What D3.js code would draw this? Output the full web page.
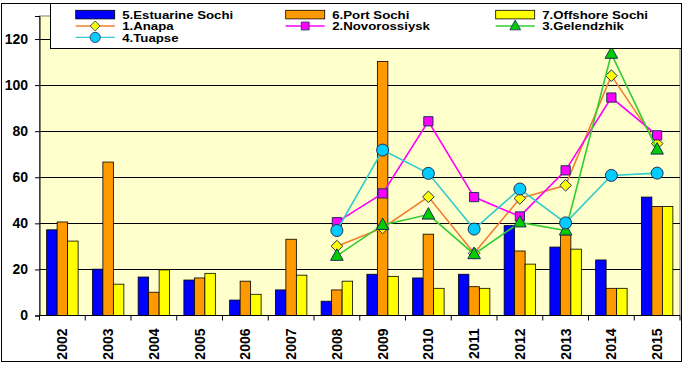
<!DOCTYPE html>
<html><head><meta charset="utf-8">
<script src="https://cdn.jsdelivr.net/npm/d3@7"></script>
<style>
html,body{margin:0;padding:0;background:#fff;}
svg text{font-family:"Liberation Sans",Arial,sans-serif;font-weight:bold;}
</style></head>
<body>
<svg id="chart" width="684" height="365"></svg>
<script>
// ---------- data ----------
const years = ["2002","2003","2004","2005","2006","2007","2008","2009","2010","2011","2012","2013","2014","2015"];
const barNames = ["5.Estuarine Sochi","6.Port Sochi","7.Offshore Sochi"];
const estuarineSochi = [37.2, 20.1, 16.7, 15.4, 6.7, 11.1, 6.2, 17.9, 16.3, 17.9, 39.0, 29.7, 24.1, 51.4];
const portSochi      = [40.6, 66.6, 10.1, 16.3, 14.9, 33.1, 11.1, 110.3, 35.3, 12.5, 28.0, 35.0, 11.8, 47.3];
const offshoreSochi  = [32.3, 13.6, 19.8, 18.3, 9.2, 17.5, 14.9, 17.0, 11.8, 11.8, 22.3, 28.8, 11.8, 47.3];
const lineYears = ["2008","2009","2010","2011","2012","2013","2014","2015"];
const lineNames = ["1.Anapa","2.Novorossiysk","3.Gelendzhik","4.Tuapse"];
const anapa       = [30.1, 38.0, 51.5, 27.0, 50.8, 56.5, 104.1, 74.6];
const novorossiysk= [40.5, 53.0, 84.3, 51.4, 43.0, 63.0, 94.6, 78.2];
const gelendzhik  = [25.9, 39.3, 43.8, 26.6, 40.4, 36.9, 113.6, 72.0];
const tuapse      = [36.9, 71.8, 61.7, 37.5, 54.9, 40.2, 60.8, 61.8];
const yTicks = [0, 20, 40, 60, 80, 100, 120];

// ---------- styles ----------
const barColors = ["#0000FF", "#FF9900", "#FFFF00"];
const lineStyles = [
  {line:"#F08030", fill:"#FFFF00", shape:"diamond"},
  {line:"#FF00FF", fill:"#FF00FF", shape:"square"},
  {line:"#33CC33", fill:"#00CC00", shape:"triangle"},
  {line:"#33CCCC", fill:"#00CCFF", shape:"circle"}
];
const markerStroke = "#1F2F5F";

const svg = d3.select("#chart");
const L = 39.5, R = 680, T = 16, B = 315.5;

const x = d3.scaleBand().domain(years).range([L, R]).paddingInner(0).paddingOuter(0);
const xs = d3.scaleBand().domain(d3.range(3)).range([0, x.bandwidth()]).paddingInner(0).paddingOuter(0.68);
const y = d3.scaleLinear().domain([0, 130]).range([B, T]);

// outer frame
svg.append("rect").attr("x",1.5).attr("y",3.5).attr("width",680).attr("height",358)
  .attr("fill","#fff").attr("stroke","#000").attr("stroke-width",1);

// plot area
svg.append("rect").attr("x",L).attr("y",T).attr("width",R-L).attr("height",B-T)
  .attr("fill","#FFFFCC").attr("stroke","#808080").attr("stroke-width",1);

// gridlines
svg.append("g").selectAll("line").data(yTicks.filter(d=>d>0)).join("line")
  .attr("x1",L).attr("x2",R).attr("y1",d=>Math.round(y(d))+0.5).attr("y2",d=>Math.round(y(d))+0.5)
  .attr("stroke","#000").attr("stroke-width",1);

// bars
const barSeries = [estuarineSochi, portSochi, offshoreSochi];
barSeries.forEach((vals, si) => {
  svg.append("g").selectAll("rect").data(vals).join("rect")
    .attr("x", (d,i) => x(years[i]) + xs(si))
    .attr("width", xs.bandwidth())
    .attr("y", d => y(d))
    .attr("height", d => y(0) - y(d))
    .attr("fill", barColors[si])
    .attr("stroke", "#000").attr("stroke-width", 0.8);
});

// y axis
const yAxis = d3.axisLeft(y).tickValues(yTicks).tickSize(4.5).tickPadding(7);
const gy = svg.append("g").attr("transform",`translate(${L},0)`).call(yAxis);
gy.select(".domain").attr("stroke","#000");
gy.selectAll(".tick line").attr("stroke","#000");
gy.selectAll("text").attr("font-size","14px").attr("fill","#000");

// x axis
const gx = svg.append("g").attr("transform",`translate(0,${B})`);
gx.append("line").attr("x1",L).attr("x2",R).attr("y1",0).attr("y2",0).attr("stroke","#000");
const bounds = years.map(d=>x(d)).concat([x.range()[1]]);
gx.selectAll("line.tk").data(bounds).join("line").attr("class","tk")
  .attr("x1",d=>d).attr("x2",d=>d).attr("y1",0).attr("y2",5).attr("stroke","#000");
gx.selectAll("text").data(years).join("text")
  .attr("transform", d => `translate(${x(d)+x.bandwidth()/2},${13}) rotate(-90)`)
  .attr("text-anchor","end").attr("dy","0.36em")
  .attr("font-size","14px").attr("fill","#000").text(d=>d);

// symbols
function markerPath(shape){
  if(shape==="diamond") return "M0,-5.8L5.8,0L0,5.8L-5.8,0Z";
  if(shape==="square") return "M-4.6,-4.6H4.6V4.6H-4.6Z";
  if(shape==="triangle") return "M0,-7L6.3,4.5H-6.3Z";
  return d3.symbol(d3.symbolCircle, 113)();
}

// lines
const lineSeries = [anapa, novorossiysk, gelendzhik, tuapse];
const xc = d => x(d) + x.bandwidth()/2;
const lineGen = d3.line().x((d,i)=>xc(lineYears[i])).y(d=>y(d));
lineSeries.forEach((vals, si) => {
  const st = lineStyles[si];
  svg.append("path").datum(vals).attr("d", lineGen)
    .attr("fill","none").attr("stroke", st.line).attr("stroke-width", 1.6);
  svg.append("g").selectAll("path").data(vals).join("path")
    .attr("transform",(d,i)=>`translate(${xc(lineYears[i])},${y(d)})`)
    .attr("d", markerPath(st.shape))
    .attr("fill", st.fill).attr("stroke", markerStroke).attr("stroke-width", 1);
});

// legend
const lg = svg.append("g");
lg.append("rect").attr("x",50.5).attr("y",3.5).attr("width",631).attr("height",45)
  .attr("fill","#fff").attr("stroke","#000").attr("stroke-width",1);
const colX = [75.7, 285.7, 495.7];
const rowY = [14.6, 26.0, 37.4];
const items = barNames.map((n,i)=>({name:n, type:"bar", idx:i}))
  .concat(lineNames.map((n,i)=>({name:n, type:"line", idx:i})));
items.forEach((it, k) => {
  const cx = colX[k % 3], cy = rowY[Math.floor(k / 3)];
  const g = lg.append("g").attr("transform",`translate(${cx},${cy})`);
  if(it.type==="bar"){
    g.append("rect").attr("x",0).attr("y",-4.3).attr("width",39).attr("height",8.6)
      .attr("fill",barColors[it.idx]).attr("stroke","#000").attr("stroke-width",0.8);
  } else {
    const st = lineStyles[it.idx];
    g.append("line").attr("x1",0).attr("x2",39).attr("y1",0).attr("y2",0)
      .attr("stroke",st.line).attr("stroke-width",1.4);
    g.append("path").attr("transform","translate(19.5,0) scale(0.85)").attr("d",markerPath(st.shape))
      .attr("fill",st.fill).attr("stroke",markerStroke).attr("stroke-width",1);
  }
  const t = g.append("text").attr("x",46.5).attr("y",0).attr("dy","0.36em")
    .attr("font-size","11.5px").attr("fill","#000").text(it.name);
  const w = t.node().getComputedTextLength();
  t.attr("textLength", w*1.15).attr("lengthAdjust","spacingAndGlyphs");
});
</script>
</body></html>
